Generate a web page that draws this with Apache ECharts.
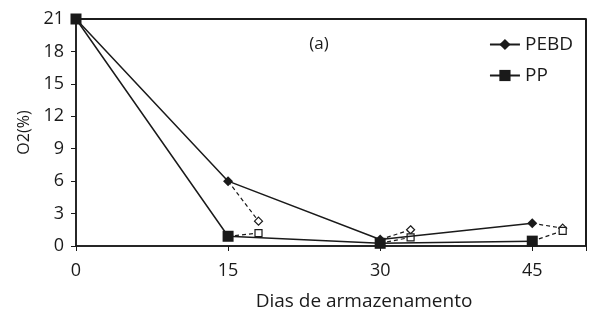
<!DOCTYPE html>
<html><head><meta charset="utf-8">
<script src="https://cdn.jsdelivr.net/npm/echarts@6/dist/echarts.min.js"></script>
<style>html,body{margin:0;padding:0;background:#fff}#c{width:589px;height:312px}</style>
</head><body><div id="c"></div>
<script>
const days = [0, 15, 30, 45];
const pebd = [21, 6, 0.6, 2.1];
const pp = [21, 0.9, 0.25, 0.45];
const laterDays = [18, 33, 48];
const pebdLater = [2.3, 1.5, 1.65];
const ppLater = [1.2, 0.8, 1.4];
const yTicks = [0, 3, 6, 9, 12, 15, 18, 21];

const FONT = '"Open Sans", "Noto Sans", sans-serif';
const INK = '#1a1a1a';
const X_MAX = 50.3;
const Y_MIN = yTicks[0], Y_MAX = yTicks[yTicks.length - 1];

function pairs(xs, ys) { return xs.map((x, i) => [x, ys[i]]); }
function dashedData(base, later) {
  const out = [];
  laterDays.forEach((d, i) => {
    out.push({ value: [days[i + 1], base[i + 1]], symbol: 'none' });
    out.push([d, later[i]]);
    out.push([d, '-']);
  });
  return out;
}

const chart = echarts.init(document.getElementById('c'));
chart.setOption({
  animation: false,
  textStyle: { fontFamily: FONT },
  grid: { left: 76, right: 3, top: 19, bottom: 66, containLabel: false, outerBoundsMode: 'none',
    show: true, borderColor: INK, borderWidth: 1.5 },
  graphic: [{ type: 'text', x: 319, y: 44,
    style: { text: '(a)', font: '17px ' + FONT, fill: INK, textAlign: 'center', textVerticalAlign: 'middle' } }],
  legend: {
    orient: 'vertical', right: 11, top: 30, itemWidth: 30, itemHeight: 14, itemGap: 12,
    data: ['PEBD', 'PP'],
    textStyle: { fontSize: 19, color: INK, fontFamily: FONT }
  },
  xAxis: {
    type: 'value', min: 0, max: X_MAX, interval: 15,
    name: 'Dias de armazenamento', nameLocation: 'middle', nameGap: 46,
    nameTextStyle: { fontSize: 19, color: INK, fontFamily: FONT, padding: [0, 0, 0, 66] },
    axisLine: { onZero: false, lineStyle: { color: INK, width: 1.5 } },
    axisTick: { show: true, length: 5, lineStyle: { color: INK } },
    axisLabel: { fontSize: 18, color: INK, margin: 16, fontFamily: FONT,
      formatter: v => (days.indexOf(v) >= 0 ? String(v) : '') },
    splitLine: { show: false }
  },
  yAxis: {
    type: 'value', min: Y_MIN, max: Y_MAX, interval: 3,
    name: 'O2(%)', nameLocation: 'middle', nameGap: 43,
    nameTextStyle: { fontSize: 16, color: INK, fontFamily: FONT },
    axisLine: { show: true, onZero: false, lineStyle: { color: INK, width: 1.5 } },
    axisTick: { show: true, length: 5, lineStyle: { color: INK } },
    axisLabel: { fontSize: 18, color: INK, margin: 12, fontFamily: FONT },
    splitLine: { show: false }
  },
  series: [
    { name: 'frame', type: 'line', silent: true, symbol: 'none', clip: false,
      data: [[0, Y_MAX], [X_MAX, Y_MAX], [X_MAX, Y_MIN]],
      lineStyle: { color: INK, width: 1.5 }, z: 1 },
    { name: 'PEBD-d', type: 'line', data: dashedData(pebd, pebdLater), connectNulls: false,
      symbol: 'diamond', symbolSize: 8, showAllSymbol: true,
      itemStyle: { color: '#fff', borderColor: INK, borderWidth: 1.2 },
      lineStyle: { color: INK, width: 1.2, type: [4, 3] }, z: 2 },
    { name: 'PP-d', type: 'line', data: dashedData(pp, ppLater), connectNulls: false,
      symbol: 'rect', symbolSize: 7, showAllSymbol: true,
      itemStyle: { color: '#fff', borderColor: INK, borderWidth: 1.2 },
      lineStyle: { color: INK, width: 1.2, type: [4, 3] }, z: 2 },
    { name: 'PEBD', type: 'line', data: pairs(days, pebd),
      symbol: 'diamond', symbolSize: 10, showAllSymbol: true,
      itemStyle: { color: INK }, lineStyle: { color: INK, width: 1.5 }, z: 3,
      markLine: { silent: true, symbol: 'none', label: { show: false },
        lineStyle: { color: INK, width: 1.5, type: 'solid' },
        data: [{ yAxis: Y_MAX }, { xAxis: X_MAX }] } },
    { name: 'PP', type: 'line', data: pairs(days, pp),
      symbol: 'rect', symbolSize: 11, showAllSymbol: true,
      itemStyle: { color: INK }, lineStyle: { color: INK, width: 1.5 }, z: 3 }
  ]
});
</script></body></html>
